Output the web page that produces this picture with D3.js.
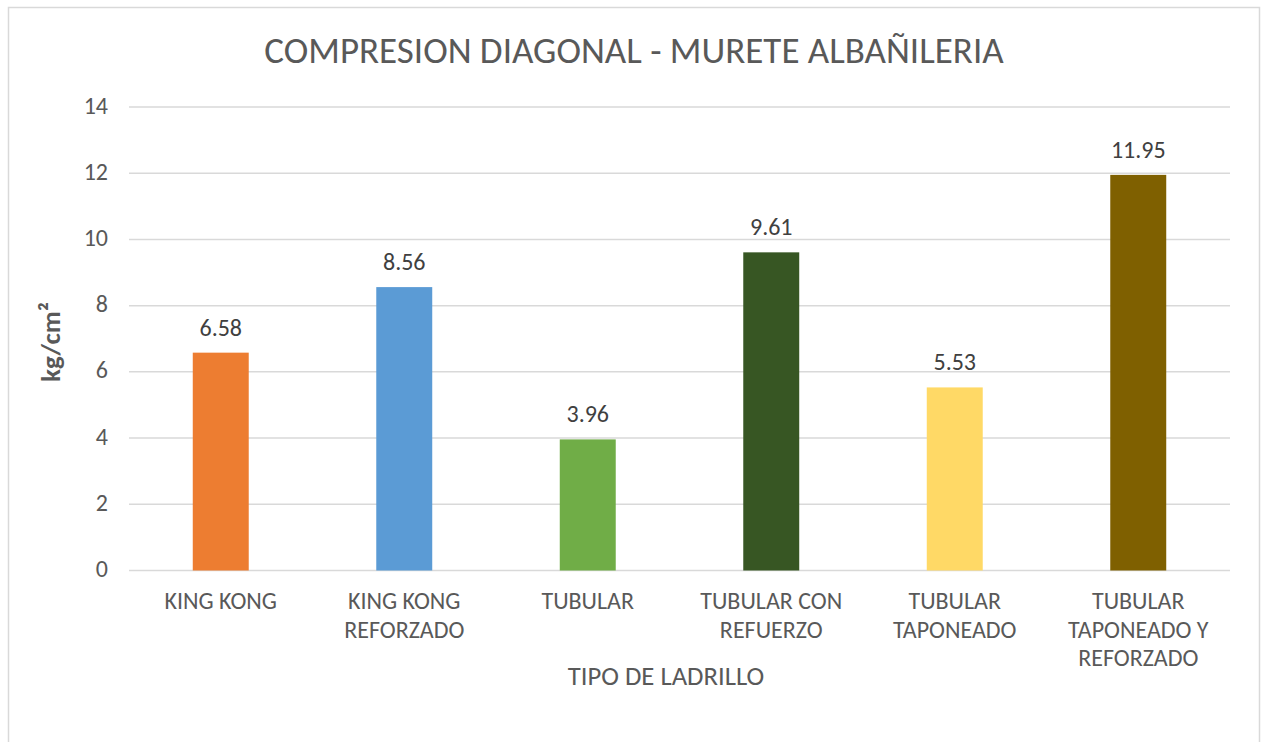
<!DOCTYPE html>
<html>
<head>
<meta charset="utf-8">
<script src="https://cdn.jsdelivr.net/npm/d3@7"></script>
<style>
  body { margin: 0; background: #fff; }
  svg { display: block; }
</style>
</head>
<body>
<div id="chart"></div>
<script>
const categories = [
  ['KING KONG'],
  ['KING KONG', 'REFORZADO'],
  ['TUBULAR'],
  ['TUBULAR CON', 'REFUERZO'],
  ['TUBULAR', 'TAPONEADO'],
  ['TUBULAR', 'TAPONEADO Y', 'REFORZADO']
];
const values = [6.58, 8.56, 3.96, 9.61, 5.53, 11.95];
const barColors = ['#ED7D31', '#5B9BD5', '#70AD47', '#375623', '#FFD966', '#7F6000'];
const yTicks = [0, 2, 4, 6, 8, 10, 12, 14];

function drawChart() {
  const width = 1266, height = 742;
  const margin = { left: 129, right: 36, top: 107, bottom: 172 };
  const font = "Carlito, Lato, sans-serif";

  const svg = d3.select('#chart').append('svg')
    .attr('width', width)
    .attr('height', height);

  // chart frame
  svg.append('rect')
    .attr('x', 8.5).attr('y', 7.5)
    .attr('width', 1251).attr('height', 760)
    .attr('fill', '#fff')
    .attr('stroke', '#d9d9d9')
    .attr('stroke-width', 1.5);

  const idx = d3.range(values.length);
  const x = d3.scaleBand()
    .domain(idx)
    .range([margin.left, width - margin.right])
    .padding(0);

  const y = d3.scaleLinear()
    .domain([0, 14])
    .range([height - margin.bottom + 0.5, margin.top]);

  // gridlines
  svg.append('g')
    .selectAll('line')
    .data(yTicks)
    .enter()
    .append('line')
    .attr('x1', margin.left)
    .attr('x2', width - margin.right)
    .attr('y1', d => y(d))
    .attr('y2', d => y(d))
    .attr('stroke', '#d9d9d9')
    .attr('stroke-width', 1.5);

  // y tick labels
  svg.append('g')
    .selectAll('text')
    .data(yTicks)
    .enter()
    .append('text')
    .attr('x', 108)
    .attr('y', d => y(d) + 6.5)
    .attr('text-anchor', 'end')
    .style('font-family', font)
    .style('font-size', '24px')
    .style('fill', '#595959')
    .text(d => d);

  const barW = x.bandwidth() * 0.305;

  svg.append('g')
    .selectAll('rect')
    .data(idx)
    .enter()
    .append('rect')
    .attr('x', i => x(i) + (x.bandwidth() - barW) / 2)
    .attr('y', i => y(values[i]))
    .attr('width', barW)
    .attr('height', i => y(0) - y(values[i]))
    .style('fill', i => barColors[i]);

  // value labels
  svg.append('g')
    .selectAll('text')
    .data(idx)
    .enter()
    .append('text')
    .attr('x', i => x(i) + x.bandwidth() / 2)
    .attr('y', i => y(values[i]) - 17)
    .attr('text-anchor', 'middle')
    .style('font-family', font)
    .style('font-size', '24px')
    .style('fill', '#404040')
    .text(i => values[i].toFixed(2));

  // category labels
  const cat = svg.append('g')
    .selectAll('text')
    .data(idx)
    .enter()
    .append('text')
    .attr('x', i => x(i) + x.bandwidth() / 2)
    .attr('y', 609)
    .attr('text-anchor', 'middle')
    .style('font-family', font)
    .style('font-size', '24px')
    .style('fill', '#595959');

  cat.selectAll('tspan')
    .data(i => categories[i].map(t => ({ t, i })))
    .enter()
    .append('tspan')
    .attr('x', d => x(d.i) + x.bandwidth() / 2)
    .attr('dy', (d, j) => j === 0 ? 0 : 28.7)
    .text(d => d.t);

  // axis titles
  svg.append('text')
    .attr('x', 666)
    .attr('y', 685)
    .attr('text-anchor', 'middle')
    .style('font-family', font)
    .style('font-size', '26.7px')
    .style('fill', '#595959')
    .text('TIPO DE LADRILLO');

  svg.append('text')
    .attr('transform', 'translate(60,342) rotate(-90)')
    .attr('text-anchor', 'middle')
    .style('font-family', font)
    .style('font-size', '27px')
    .style('font-weight', 'bold')
    .style('fill', '#595959')
    .text('kg/cm²');

  // title
  svg.append('text')
    .attr('x', 634)
    .attr('y', 63)
    .attr('text-anchor', 'middle')
    .style('font-family', font)
    .style('font-size', '37px')
    .style('fill', '#595959')
    .text('COMPRESION DIAGONAL - MURETE ALBAÑILERIA');
}

window.onload = function () {
  drawChart();
};
</script>
</body>
</html>
